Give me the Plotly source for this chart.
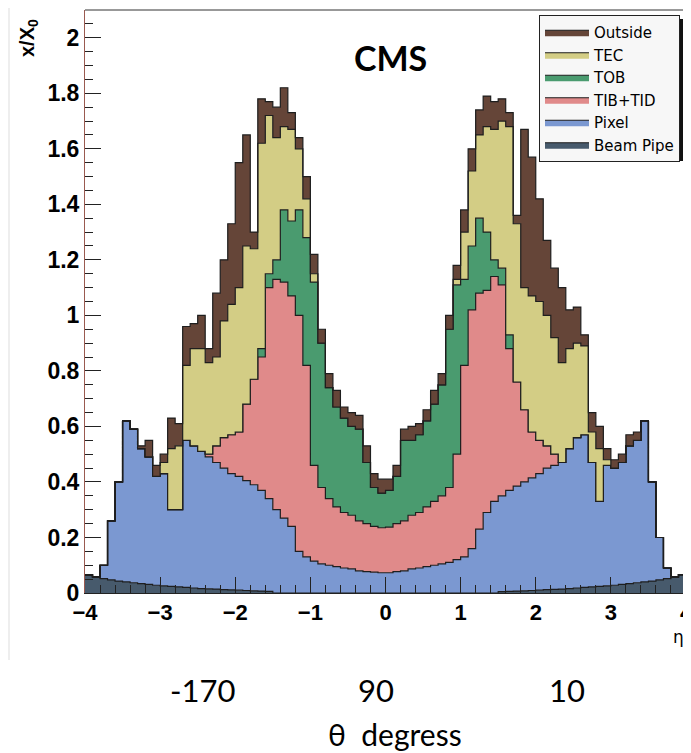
import numpy as np
import plotly.graph_objects as go

# ---------------- data ----------------
eta_edges = np.round(np.linspace(-4.0, 4.0, 81), 2)   # 80 bins of width 0.1 in eta

beam_pipe = [0.065, 0.058, 0.052, 0.047, 0.043, 0.040, 0.037, 0.034, 0.031, 0.028,
             0.026, 0.024, 0.022, 0.020, 0.018, 0.016, 0.015, 0.014, 0.012, 0.011,
             0.010, 0.009, 0.008, 0.007, 0.006, 0.0, 0.0, 0.0, 0.0, 0.0,
             0.0, 0.0, 0.0, 0.0, 0.0, 0.0, 0.0, 0.0, 0.0, 0.0,
             0.0, 0.0, 0.0, 0.0, 0.0, 0.0, 0.0, 0.0, 0.0, 0.0,
             0.0, 0.0, 0.0, 0.0, 0.0, 0.005, 0.006, 0.007, 0.008, 0.009,
             0.010, 0.012, 0.013, 0.014, 0.016, 0.018, 0.020, 0.022, 0.024, 0.026,
             0.028, 0.031, 0.034, 0.037, 0.040, 0.043, 0.047, 0.052, 0.058, 0.066]

pixel = [0.0, 0.0, 0.048, 0.213, 0.357, 0.580, 0.553, 0.486, 0.459, 0.392,
         0.404, 0.276, 0.278, 0.530, 0.512, 0.494, 0.475, 0.456, 0.438, 0.419,
         0.410, 0.396, 0.382, 0.363, 0.334, 0.300, 0.270, 0.240, 0.150, 0.130,
         0.115, 0.105, 0.100, 0.095, 0.090, 0.087, 0.080, 0.077, 0.075, 0.073,
         0.073, 0.077, 0.080, 0.087, 0.090, 0.095, 0.100, 0.105, 0.110, 0.120,
         0.130, 0.160, 0.230, 0.290, 0.330, 0.345, 0.364, 0.378, 0.392, 0.406,
         0.420, 0.438, 0.447, 0.456, 0.504, 0.542, 0.550, 0.448, 0.306, 0.434,
         0.422, 0.439, 0.496, 0.513, 0.580, 0.357, 0.153, 0.038, 0.0, 0.0]

tib_tid = [0.0, 0.0, 0.0, 0.0, 0.0, 0.0, 0.0, 0.0, 0.0, 0.0,
           0.0, 0.0, 0.0, 0.0, 0.0, 0.0, 0.010, 0.060, 0.110, 0.140,
           0.160, 0.275, 0.380, 0.480, 0.760, 0.830, 0.850, 0.830, 0.850, 0.690,
           0.345, 0.275, 0.240, 0.215, 0.200, 0.193, 0.180, 0.173, 0.165, 0.162,
           0.164, 0.173, 0.180, 0.193, 0.200, 0.215, 0.230, 0.245, 0.270, 0.380,
           0.690, 0.860, 0.850, 0.800, 0.810, 0.760, 0.510, 0.375, 0.260, 0.165,
           0.120, 0.080, 0.040, 0.0, 0.0, 0.0, 0.0, 0.0, 0.0, 0.0,
           0.0, 0.0, 0.0, 0.0, 0.0, 0.0, 0.0, 0.0, 0.0, 0.0]

tob = [0.0, 0.0, 0.0, 0.0, 0.0, 0.0, 0.0, 0.0, 0.0, 0.0,
       0.0, 0.0, 0.0, 0.0, 0.0, 0.0, 0.0, 0.0, 0.0, 0.0,
       0.0, 0.0, 0.0, 0.030, 0.050, 0.070, 0.260, 0.270, 0.380, 0.460,
       0.660, 0.520, 0.400, 0.360, 0.340, 0.320, 0.330, 0.220, 0.140, 0.125,
       0.133, 0.170, 0.290, 0.270, 0.280, 0.310, 0.350, 0.400, 0.570, 0.610,
       0.310, 0.230, 0.270, 0.210, 0.060, 0.060, 0.050, 0.0, 0.0, 0.0,
       0.0, 0.0, 0.0, 0.0, 0.0, 0.0, 0.0, 0.0, 0.0, 0.0,
       0.0, 0.0, 0.0, 0.0, 0.0, 0.0, 0.0, 0.0, 0.0, 0.0]

tec = [0.0, 0.0, 0.0, 0.0, 0.0, 0.0, 0.0, 0.0, 0.0, 0.0,
       0.040, 0.220, 0.230, 0.270, 0.350, 0.370, 0.330, 0.320, 0.420, 0.470,
       0.520, 0.570, 0.470, 0.740, 0.570, 0.440, 0.300, 0.330, 0.220, 0.140,
       0.030, 0.0, 0.0, 0.0, 0.0, 0.0, 0.0, 0.0, 0.0, 0.0,
       0.0, 0.0, 0.0, 0.0, 0.0, 0.0, 0.0, 0.0, 0.0, 0.020,
       0.170, 0.270, 0.300, 0.380, 0.470, 0.530, 0.750, 0.570, 0.440, 0.490,
       0.500, 0.470, 0.420, 0.360, 0.360, 0.340, 0.320, 0.110, 0.190, 0.020,
       0.0, 0.0, 0.0, 0.0, 0.0, 0.0, 0.0, 0.0, 0.0, 0.0]

outside = [0.0, 0.0, 0.0, 0.0, 0.0, 0.0, 0.0, 0.010, 0.060, 0.040,
           0.030, 0.110, 0.080, 0.140, 0.090, 0.120, 0.050, 0.230, 0.220, 0.290,
           0.450, 0.400, 0.060, 0.160, 0.050, 0.110, 0.140, 0.060, 0.040, 0.080,
           0.070, 0.050, 0.050, 0.060, 0.040, 0.050, 0.050, 0.060, 0.050, 0.050,
           0.040, 0.040, 0.040, 0.050, 0.040, 0.040, 0.050, 0.040, 0.050, 0.050,
           0.080, 0.080, 0.090, 0.110, 0.100, 0.080, 0.050, 0.030, 0.570, 0.500,
           0.370, 0.270, 0.250, 0.270, 0.140, 0.130, 0.040, 0.070, 0.080, 0.040,
           0.030, 0.030, 0.040, 0.030, 0.0, 0.0, 0.0, 0.0, 0.0, 0.0]

series_names = ["Beam Pipe", "Pixel", "TIB+TID", "TOB", "TEC", "Outside"]
series_values = [beam_pipe, pixel, tib_tid, tob, tec, outside]
series_colors = ["#475a6c", "#7b98d1", "#e08a8a", "#4a9b6f", "#d3cd85", "#654538"]

y_ticks = [0, 0.2, 0.4, 0.6, 0.8, 1, 1.2, 1.4, 1.6, 1.8, 2]
x_ticks = [-4, -3, -2, -1, 0, 1, 2, 3, 4]
theta_labels = ["-170", "90", "10"]

for v in series_values:
    assert len(v) == len(eta_edges) - 1

# ---------------- figure ----------------
fig = go.Figure()
cum = np.zeros(len(eta_edges) - 1)
n = len(series_names)
for i, (name, vals, col) in enumerate(zip(series_names, series_values, series_colors)):
    cum = cum + np.array(vals)
    yy = np.append(cum, cum[-1])
    fig.add_trace(go.Scatter(
        x=eta_edges, y=yy, name=name, mode="lines",
        line=dict(shape="hv", color="#1e1e1e", width=1.2),
        fill="tozeroy" if i == 0 else "tonexty",
        fillcolor=col, legendrank=n - i, hoverinfo="skip"))

def axfont(size):
    return dict(family="Liberation Sans, Arial, sans-serif", size=size, color="black", weight="bold")

# page pixel -> paper coordinate helpers (plot area: x 85..686, y 10..593 on the page)
def px_x(p):
    return (p - 85) / 601.0

def px_y(p):
    return (593 - p) / 583.0

fig.update_layout(
    width=683, height=745,
    margin=dict(l=77, r=5, t=2, b=160, autoexpand=False),
    paper_bgcolor="white", plot_bgcolor="white",
    showlegend=True,
    legend=dict(
        x=px_x(680), xanchor="right", y=px_y(15), yanchor="top",
        traceorder="normal",
        bgcolor="#f7f7f7", bordercolor="#222222", borderwidth=1,
        font=dict(family="DejaVu Sans, Liberation Sans, sans-serif", size=15, color="black"),
        itemwidth=44,
    ),
    xaxis=dict(
        range=[-4, 4], tickvals=x_ticks, ticks="inside", ticklen=16, tickwidth=1,
        tickcolor="#222222", showline=True, linecolor="#222222", linewidth=1,
        showgrid=False, zeroline=False, tickfont=axfont(22), automargin=False,
        ticklabeloverflow="allow",
        minor=dict(dtick=0.2, ticks="inside", ticklen=8, tickcolor="#222222", showgrid=False),
    ),
    yaxis=dict(
        range=[0, 2.1], tickvals=y_ticks, ticks="inside", ticklen=16, tickwidth=1,
        tickcolor="#222222", showline=True, linecolor="#9a5a50", linewidth=1,
        showgrid=False, zeroline=False, tickfont=axfont(23), automargin=False,
        ticklabeloverflow="allow",
        minor=dict(dtick=0.05, ticks="inside", ticklen=8, tickcolor="#222222", showgrid=False),
    ),
)

# frame, legend shadow, canvas edge
fig.add_shape(type="line", xref="paper", yref="paper", x0=0, x1=1, y0=1, y1=1,
              line=dict(color="#333333", width=1))
fig.add_shape(type="line", xref="paper", yref="paper", x0=1, x1=1, y0=0, y1=1,
              line=dict(color="#e04a2a", width=2))
fig.add_shape(type="rect", xref="paper", yref="paper",
              x0=px_x(545), x1=px_x(684), y0=px_y(161), y1=px_y(19),
              fillcolor="#111111", line=dict(width=0), layer="above")
fig.add_shape(type="line", xref="paper", yref="paper",
              x0=px_x(9), x1=px_x(9), y0=px_y(660), y1=px_y(8),
              line=dict(color="#dddddd", width=1))

# texts
fig.add_annotation(x=0.07, y=1.93, xref="x", yref="y", text="CMS", showarrow=False,
                   font=dict(family="Lato, Open Sans, sans-serif", size=34, color="black", weight="bold"))
fig.add_annotation(x=px_x(29), y=px_y(38), xref="paper", yref="paper",
                   text="x/X<sub>0</sub>", textangle=-90, showarrow=False,
                   xanchor="center", yanchor="middle",
                   font=dict(family="Liberation Sans, Arial, sans-serif", size=20, color="black", weight="bold"))
fig.add_annotation(x=px_x(678), y=px_y(637), xref="paper", yref="paper",
                   text="η", showarrow=False, xanchor="center", yanchor="middle",
                   font=dict(family="DejaVu Sans, sans-serif", size=17, color="black"))

theta_px = [202, 376, 567]
for lab, p in zip(theta_labels, theta_px):
    fig.add_annotation(x=px_x(p), y=px_y(690), xref="paper", yref="paper",
                       text=lab, showarrow=False, xanchor="center", yanchor="middle",
                       font=dict(family="Lato, Open Sans, sans-serif", size=31, color="black"))
fig.add_annotation(x=px_x(395), y=px_y(734), xref="paper", yref="paper",
                   text="θ  degress", showarrow=False, xanchor="center", yanchor="middle",
                   font=dict(family="Lato, Open Sans, sans-serif", size=30, color="black"))

fig.write_html("out.html")
